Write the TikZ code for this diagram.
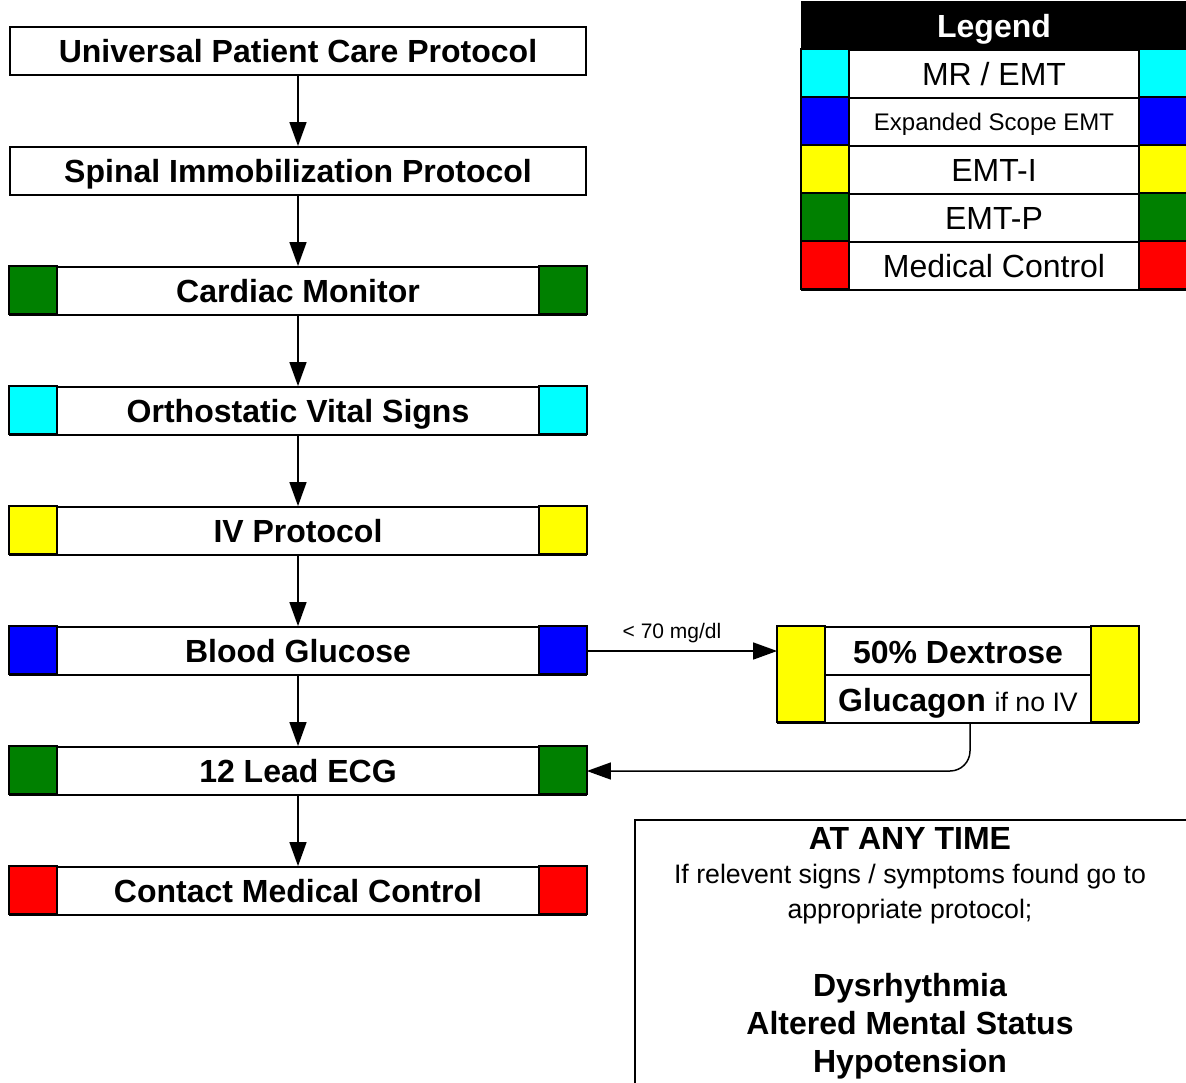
\documentclass[tikz,border=0pt]{standalone}
\usepackage{fontspec}
\setmainfont{Liberation Sans}
\usetikzlibrary{arrows.meta}
\definecolor{cgreen}{RGB}{0,128,0}
\definecolor{ccyan}{RGB}{0,255,255}
\definecolor{cyellow}{RGB}{255,255,0}
\definecolor{cblue}{RGB}{0,0,255}
\definecolor{cred}{RGB}{255,0,0}
\newcommand{\fsz}[1]{\fontsize{#1}{#1}\selectfont}
\begin{document}
\begin{tikzpicture}[x=1pt,y=-1pt,
  pbox/.style={draw, line width=1.8pt, minimum width=576pt, minimum height=48pt, inner sep=0pt,
    font=\fsz{32}\bfseries, text height=23pt, text depth=0pt},
  lrow/.style={draw, line width=1.8pt, minimum width=384pt, minimum height=48pt, inner sep=0pt,
    font=\fsz{32}, text height=23pt, text depth=0pt},
  swatch/.style={draw, line width=1.8pt},
  conn/.style={line width=1.5pt, -{Triangle[length=24pt,width=17pt]}},
  txt/.style={anchor=base, inner sep=0pt}
]
\useasboundingbox[fill=white] (0,0) rectangle (1186,1082);

% main flow
\node[pbox] (b1) at (298,51) {Universal Patient Care Protocol};
\node[pbox] (b2) at (298,171) {Spinal Immobilization Protocol};
\node[pbox] (b3) at (298,291) {Cardiac Monitor};
\node[pbox] (b4) at (298,411) {Orthostatic Vital Signs};
\node[pbox] (b5) at (298,531) {IV Protocol};
\node[pbox] (b6) at (298,651) {Blood Glucose};
\node[pbox] (b7) at (298,771) {12 Lead ECG};
\node[pbox] (b8) at (298,891) {Contact Medical Control};

\foreach \n/\c in {b3/cgreen,b4/ccyan,b5/cyellow,b6/cblue,b7/cgreen,b8/cred}{
  \draw[swatch, fill=\c] (\n.north west) rectangle ++(48,48);
  \draw[swatch, fill=\c] (\n.north east) rectangle ++(-48,48);
}

\foreach \a/\b in {b1/b2,b2/b3,b3/b4,b4/b5,b5/b6,b6/b7,b7/b8}{
  \draw[conn] (\a.south) -- (\b.north);
}

% legend
\node[draw, line width=1.8pt, fill=black, minimum width=384pt, minimum height=48pt, inner sep=0pt,
  font=\fsz{32}\bfseries, text=white, text height=23pt, text depth=0pt] (lh) at (994,26) {Legend};
\node[lrow] (l1) at (994,74) {MR / EMT};
\node[lrow, font=\fsz{24}, text height=17pt] (l2) at (994,122) {Expanded Scope EMT};
\node[lrow] (l3) at (994,170) {EMT-I};
\node[lrow] (l4) at (994,218) {EMT-P};
\node[lrow] (l5) at (994,266) {Medical Control};
\foreach \n/\c in {l1/ccyan,l2/cblue,l3/cyellow,l4/cgreen,l5/cred}{
  \draw[swatch, fill=\c] (\n.north west) rectangle ++(48,48);
  \draw[swatch, fill=\c] (\n.north east) rectangle ++(-48,48);
}

% dextrose box
\node[draw, line width=1.8pt, minimum width=360pt, minimum height=96pt, inner sep=0pt] (dx) at (958,675) {};
\draw[swatch, fill=cyellow] (dx.north west) rectangle ++(48,96);
\draw[swatch, fill=cyellow] (dx.north east) rectangle ++(-48,96);
\draw[line width=1.8pt] ([xshift=48pt]dx.west) -- ([xshift=-48pt]dx.east);
\node[txt, font=\fsz{32}\bfseries] (dx1) at (958,663) {50\% Dextrose};
\node[txt] (dx2) at (958,711) {\fsz{32}\bfseries Glucagon \fsz{26.7}\mdseries if no IV};

\draw[conn] (b6.east) -- node[above=7pt, xshift=-10pt, font=\fsz{21}, inner sep=0pt] (lbl) {< 70 mg/dl} (b6.east -| dx.west);
\coordinate (dxo) at ([xshift=12pt]dx.south);
\draw[conn, rounded corners=20pt] (dxo) |- (b7.east);

% at any time box
\node[draw, line width=1.8pt, minimum width=552pt, minimum height=280pt, inner sep=0pt, anchor=north west] (aat) at (634,819) {};
\node[txt, font=\fsz{32}\bfseries] (a1) at (910,849) {AT ANY TIME};
\node[txt, font=\fsz{26.7}] (a2) at (910,883) {If relevent signs / symptoms found go to};
\node[txt, font=\fsz{26.7}] (a3) at (910,918) {appropriate protocol;};
\node[txt, font=\fsz{32}\bfseries] (a4) at (910,996) {Dysrhythmia};
\node[txt, font=\fsz{32}\bfseries] (a5) at (910,1034) {Altered Mental Status};
\node[txt, font=\fsz{32}\bfseries] (a6) at (910,1072) {Hypotension};
\end{tikzpicture}
\end{document}
